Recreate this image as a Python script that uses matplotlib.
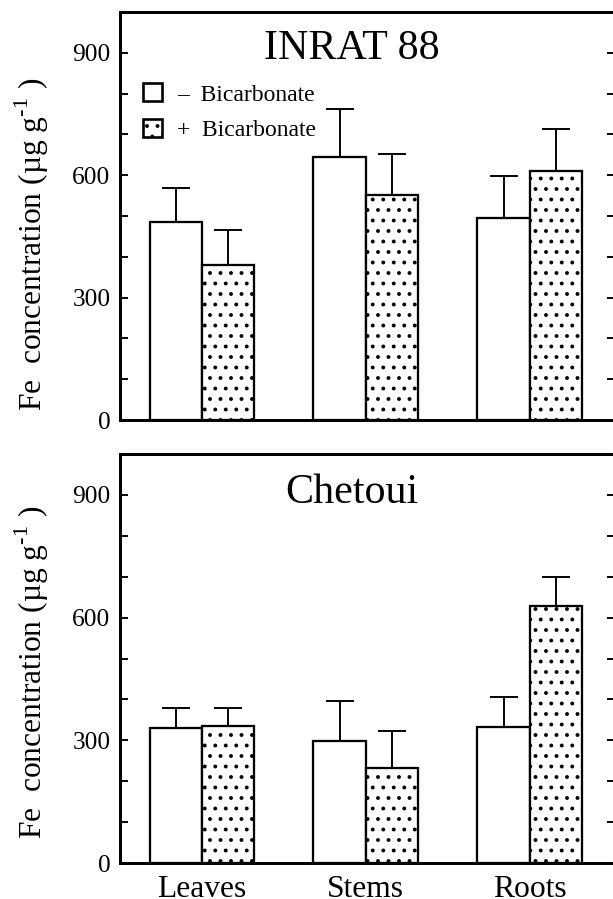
import numpy as np
import matplotlib
matplotlib.use("Agg")
import matplotlib.pyplot as plt
from matplotlib.patches import Patch
from matplotlib.ticker import MultipleLocator

categories = ["Leaves", "Stems", "Roots"]
panels = ["INRAT 88", "Chetoui"]
legend_labels = ["\u2013  Bicarbonate", "+  Bicarbonate"]

inrat_minus = [486, 645, 496]
inrat_minus_err = [83, 117, 102]
inrat_plus = [380, 552, 611]
inrat_plus_err = [85, 99, 102]

chetoui_minus = [331, 299, 332]
chetoui_minus_err = [47, 96, 73]
chetoui_plus = [336, 233, 628]
chetoui_plus_err = [42, 89, 72]

yticks = [0, 300, 600, 900]

DPI = 126
W, H = 613, 899
plt.rcParams['font.family'] = ['Liberation Serif', 'DejaVu Serif']
plt.rcParams['hatch.linewidth'] = 1.0
plt.rcParams['mathtext.fontset'] = 'custom'
plt.rcParams['mathtext.rm'] = 'Liberation Serif'

fig = plt.figure(figsize=(W / DPI, H / DPI), dpi=DPI)

def frac_x(px):
    return px / W

def frac_y(py):
    return 1 - py / H

left_px, right_px = 120, 615
axes_px = [(12, 420), (454, 863)]

data = [
    (inrat_minus, inrat_minus_err, inrat_plus, inrat_plus_err),
    (chetoui_minus, chetoui_minus_err, chetoui_plus, chetoui_plus_err),
]

w = 0.32
x = np.arange(len(categories))
lw_bar = 1.3

for i, (top, bot) in enumerate(axes_px):
    ax = fig.add_axes([frac_x(left_px), frac_y(bot), frac_x(right_px - left_px), (bot - top) / H])
    m, me, p, pe = data[i]
    ax.bar(x - w / 2, m, width=w, facecolor='white', edgecolor='black', linewidth=lw_bar, zorder=3)
    ax.bar(x + w / 2, p, width=w, facecolor='white', edgecolor='black', linewidth=lw_bar, hatch='..', zorder=3)
    ax.errorbar(x - w / 2, m, yerr=[np.zeros(3), me], fmt='none', ecolor='black',
                elinewidth=1.1, capsize=8, capthick=1.1, zorder=2)
    ax.errorbar(x + w / 2, p, yerr=[np.zeros(3), pe], fmt='none', ecolor='black',
                elinewidth=1.1, capsize=8, capthick=1.1, zorder=2)
    ax.set_xlim(-0.5, 2.52)
    ax.set_ylim(0, 1000)
    ax.set_yticks(yticks)
    ax.yaxis.set_minor_locator(MultipleLocator(100))
    ax.tick_params(axis='y', which='both', direction='in', left=True, right=True,
                   length=4.6, width=1.1, labelsize=14.5, pad=5.5)
    ax.set_xticks(x)
    if i == 1:
        ax.set_xticklabels(categories, fontsize=18)
    else:
        ax.set_xticklabels([])
    ax.tick_params(axis='x', length=0, pad=7)
    for s in ax.spines.values():
        s.set_linewidth(1.7)
    ax.set_ylabel("Fe  concentration (\u00b5g g$^{\u2010\\mathregular{1}}$ )", fontsize=18)
    ax.yaxis.set_label_coords(-0.14, 0.43 if i == 0 else 0.465)
    ax.text(0.469, 0.886 if i == 0 else 0.881, panels[i], transform=ax.transAxes,
            ha='center', va='baseline', fontsize=24)
    if i == 0:
        handles = [Patch(facecolor='white', edgecolor='black', linewidth=1.5),
                   Patch(facecolor='white', edgecolor='black', linewidth=1.5, hatch='..')]
        ax.legend(handles, legend_labels, loc='upper left', bbox_to_anchor=(0.0465, 0.825),
                  frameon=False, fontsize=13.5, handlelength=0.8, handleheight=0.8,
                  handletextpad=0.65, labelspacing=0.55, borderpad=0, borderaxespad=0)

fig.savefig("out.png", dpi=DPI)
